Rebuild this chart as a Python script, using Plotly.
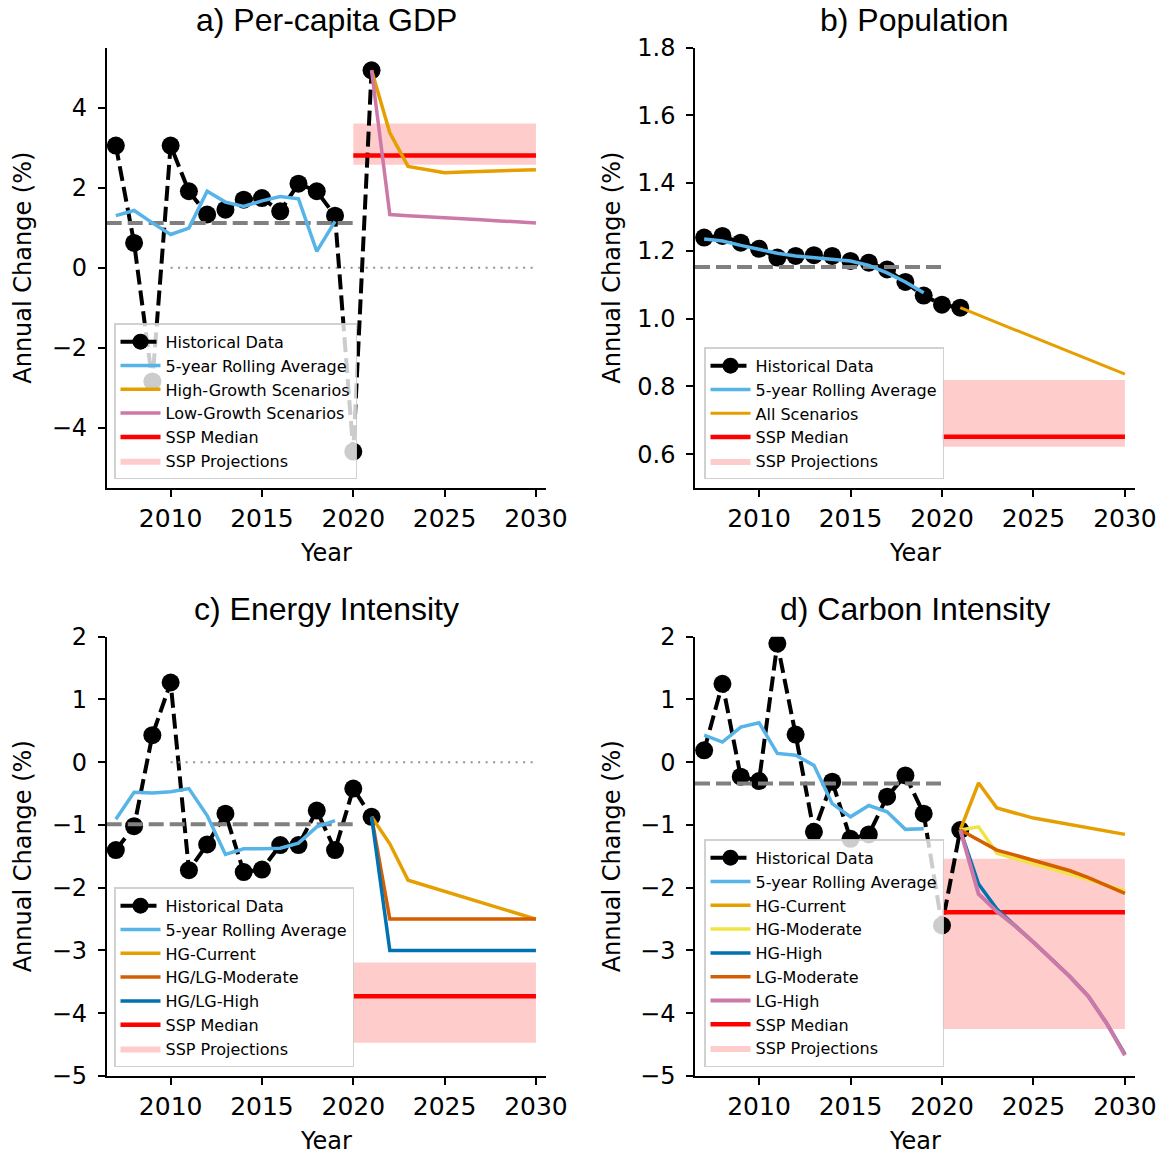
import plotly.graph_objects as go

# ---------------- data ----------------
years_hist = list(range(2007, 2022))
years_roll = list(range(2007, 2020))
years_proj = list(range(2021, 2031))
mean_span = [2006.5, 2020]
zero_span = [2010, 2030]
ssp_span = [2020, 2030]

# a) Per-capita GDP
gdp_hist = [3.05, 0.62, -2.84, 3.05, 1.91, 1.33, 1.45, 1.70, 1.74, 1.41, 2.10, 1.91, 1.30, -4.59, 4.93]
gdp_roll = [1.30, 1.43, 1.12, 0.83, 0.99, 1.91, 1.64, 1.53, 1.67, 1.78, 1.72, 0.41, 1.16]
gdp_mean = 1.12
gdp_high = [4.93, 3.37, 2.53, 2.45, 2.37, 2.39, 2.40, 2.42, 2.43, 2.45]
gdp_low = [4.93, 1.33, 1.30, 1.28, 1.25, 1.22, 1.20, 1.17, 1.15, 1.12]
gdp_ssp_median = 2.80
gdp_ssp_range = [2.575, 3.60]

# b) Population
pop_hist = [1.239, 1.244, 1.224, 1.206, 1.180, 1.185, 1.187, 1.185, 1.170, 1.165, 1.145, 1.108, 1.068, 1.041, 1.032]
pop_roll = [1.235, 1.229, 1.216, 1.204, 1.193, 1.185, 1.180, 1.177, 1.170, 1.157, 1.135, 1.108, 1.076]
pop_mean = 1.152
pop_all = [1.032, 1.010, 0.988, 0.966, 0.944, 0.923, 0.902, 0.880, 0.858, 0.836]
pop_ssp_median = 0.651
pop_ssp_range = [0.622, 0.819]

# c) Energy Intensity
ei_hist = [-1.40, -1.02, 0.43, 1.27, -1.72, -1.31, -0.82, -1.75, -1.71, -1.32, -1.32, -0.77, -1.40, -0.42, -0.87]
ei_roll = [-0.91, -0.48, -0.49, -0.47, -0.42, -0.85, -1.47, -1.38, -1.38, -1.37, -1.29, -1.03, -0.93]
ei_mean = -0.99
ei_hg_current = [-0.87, -1.30, -1.88, -1.97, -2.06, -2.15, -2.23, -2.32, -2.41, -2.50]
ei_moderate = [-0.87, -2.50, -2.50, -2.50, -2.50, -2.50, -2.50, -2.50, -2.50, -2.50]
ei_high = [-0.87, -3.00, -3.00, -3.00, -3.00, -3.00, -3.00, -3.00, -3.00, -3.00]
ei_ssp_median = -3.73
ei_ssp_range = [-4.47, -3.19]

# d) Carbon Intensity
ci_hist = [0.19, 1.25, -0.23, -0.30, 1.89, 0.44, -1.11, -0.31, -1.22, -1.15, -0.55, -0.21, -0.82, -2.60, -1.08]
ci_roll = [0.43, 0.32, 0.56, 0.63, 0.14, 0.11, -0.05, -0.66, -0.87, -0.69, -0.79, -1.07, -1.06]
ci_mean = -0.34
ci_hg_current = [-1.08, -0.33, -0.73, -0.81, -0.89, -0.94, -0.99, -1.04, -1.09, -1.15]
ci_hg_moderate = [-1.08, -1.03, -1.45, -1.54, -1.62, -1.70, -1.78, -1.87, -1.96, -2.05]
ci_hg_high = [-1.08, -1.94, -2.34, -2.60, -2.87, -3.14, -3.42, -3.73, -4.16, -4.65]
ci_lg_moderate = [-1.08, -1.24, -1.40, -1.48, -1.56, -1.64, -1.73, -1.84, -1.96, -2.09]
ci_lg_high = [-1.08, -2.10, -2.38, -2.61, -2.87, -3.14, -3.42, -3.73, -4.16, -4.67]
ci_ssp_median = -2.39
ci_ssp_range = [-4.25, -1.54]

titles = ["a) Per-capita GDP", "b) Population", "c) Energy Intensity", "d) Carbon Intensity"]

# ---------------- styling ----------------
W, H = 1168, 1156
FONT = "DejaVu Sans"
C_ROLL = "#56B4E9"
C_ORANGE = "#E69F00"
C_PINK = "#CC79A7"
C_VERM = "#D55E00"
C_BLUE = "#0072B2"
C_YELLOW = "#F0E442"
C_RED = "#FF0000"
C_BAND = "rgba(255,0,0,0.2)"

xdom = [[106.7 / W, 546 / W], [695 / W, 1135 / W]]
ydom = [[1 - 488 / H, 1 - 47.5 / H], [1 - 1076 / H, 1 - 636.7 / H]]

fig = go.Figure()

panels = [
    dict(ax="", leg="legend", col=0, row=0, hist=gdp_hist, roll=gdp_roll, mean=gdp_mean,
         zero=True, med=gdp_ssp_median, rng=gdp_ssp_range,
         scen=[("High-Growth Scenarios", gdp_high, C_ORANGE, 3.5),
               ("Low-Growth Scenarios", gdp_low, C_PINK, 3.5)],
         yrange=[-5.5, 5.5], ytick=dict(tickvals=[-4, -2, 0, 2, 4])),
    dict(ax="2", leg="legend2", col=1, row=0, hist=pop_hist, roll=pop_roll, mean=pop_mean,
         zero=False, med=pop_ssp_median, rng=pop_ssp_range,
         scen=[("All Scenarios", pop_all, C_ORANGE, 3)],
         yrange=[0.5, 1.8], ytick=dict(tickvals=[0.6, 0.8, 1.0, 1.2, 1.4, 1.6, 1.8], tickformat=".1f")),
    dict(ax="3", leg="legend3", col=0, row=1, hist=ei_hist, roll=ei_roll, mean=ei_mean,
         zero=True, med=ei_ssp_median, rng=ei_ssp_range,
         scen=[("HG-Current", ei_hg_current, C_ORANGE, 3.5),
               ("HG/LG-Moderate", ei_moderate, C_VERM, 3.5),
               ("HG/LG-High", ei_high, C_BLUE, 3.5)],
         yrange=[-5, 2], ytick=dict(tickvals=[-5, -4, -3, -2, -1, 0, 1, 2])),
    dict(ax="4", leg="legend4", col=1, row=1, hist=ci_hist, roll=ci_roll, mean=ci_mean,
         zero=False, med=ci_ssp_median, rng=ci_ssp_range,
         scen=[("HG-Current", ci_hg_current, C_ORANGE, 3.5),
               ("HG-Moderate", ci_hg_moderate, C_YELLOW, 3.5),
               ("HG-High", ci_hg_high, C_BLUE, 3.5),
               ("LG-Moderate", ci_lg_moderate, C_VERM, 3.5),
               ("LG-High", ci_lg_high, C_PINK, 4)],
         yrange=[-5, 2], ytick=dict(tickvals=[-5, -4, -3, -2, -1, 0, 1, 2])),
]

annotations = []
for i, p in enumerate(panels):
    xa, ya = "x" + p["ax"], "y" + p["ax"]
    leg = p["leg"]
    # SSP band
    lo, hi = p["rng"]
    fig.add_trace(go.Scatter(
        x=[ssp_span[0], ssp_span[1], ssp_span[1], ssp_span[0], ssp_span[0]],
        y=[lo, lo, hi, hi, lo], fill="toself", fillcolor=C_BAND, mode="lines",
        line=dict(width=0, color=C_BAND), name="SSP Projections",
        xaxis=xa, yaxis=ya, legend=leg, legendrank=60, hoverinfo="skip"))
    # historical
    fig.add_trace(go.Scatter(
        x=years_hist, y=p["hist"], mode="lines+markers", name="Historical Data",
        line=dict(color="black", width=4, dash="15px,6px"),
        marker=dict(color="black", size=18),
        xaxis=xa, yaxis=ya, legend=leg, legendrank=10))
    # mean dashed
    fig.add_trace(go.Scatter(
        x=mean_span, y=[p["mean"], p["mean"]], mode="lines", showlegend=False,
        line=dict(color="#808080", width=4, dash="15px,6px"),
        xaxis=xa, yaxis=ya, legend=leg))
    if p["zero"]:
        fig.add_trace(go.Scatter(
            x=zero_span, y=[0, 0], mode="lines", showlegend=False,
            line=dict(color="rgba(128,128,128,0.85)", width=2, dash="2px,5.5px"),
            xaxis=xa, yaxis=ya, legend=leg))
    # rolling
    fig.add_trace(go.Scatter(
        x=years_roll, y=p["roll"], mode="lines", name="5-year Rolling Average",
        line=dict(color=C_ROLL, width=3.5),
        xaxis=xa, yaxis=ya, legend=leg, legendrank=11))
    # median
    fig.add_trace(go.Scatter(
        x=ssp_span, y=[p["med"], p["med"]], mode="lines", name="SSP Median",
        line=dict(color=C_RED, width=4.5),
        xaxis=xa, yaxis=ya, legend=leg, legendrank=50))
    # scenarios
    for k, (nm, vals, col, lw) in enumerate(p["scen"]):
        fig.add_trace(go.Scatter(
            x=years_proj, y=vals, mode="lines", name=nm,
            line=dict(color=col, width=lw),
            xaxis=xa, yaxis=ya, legend=leg, legendrank=20 + k))

    xd = xdom[p["col"]]
    yd = ydom[p["row"]]
    axis_common = dict(showline=True, linecolor="black", linewidth=1.5, mirror=False,
                       ticks="outside", ticklen=7, tickwidth=1.5, tickcolor="black",
                       showgrid=False, zeroline=False, automargin=False)
    fig.update_layout(**{
        "xaxis" + p["ax"]: dict(domain=xd, range=[2006.5, 2030.55], tickvals=[2010, 2015, 2020, 2025, 2030],
                                tickfont=dict(family=FONT, size=25, color="black"),
                                anchor=ya, **axis_common),
        "yaxis" + p["ax"]: dict(domain=yd, range=p["yrange"], anchor=xa,
                                tickfont=dict(family=FONT, size=24, color="black"),
                                ticklabelstandoff=6,
                                **p["ytick"], **axis_common),
    })
    # legends
    lx = (114 if p["col"] == 0 else 704) / W
    ly = 1 - (479.3 if p["row"] == 0 else 1067.3) / H
    fig.update_layout(**{leg: dict(
        x=lx, y=ly, xanchor="left", yanchor="bottom", xref="paper", yref="paper",
        bgcolor="rgba(255,255,255,0.8)", bordercolor="rgba(204,204,204,0.9)", borderwidth=1.5,
        itemwidth=40,
        font=dict(family=FONT, size=16, color="black"), traceorder="normal")})

    cx = (xd[0] + xd[1]) / 2
    cy = (yd[0] + yd[1]) / 2
    ty = 1 - (20 if p["row"] == 0 else 609) / H
    annotations.append(dict(text=titles[i], x=cx, y=ty, xref="paper", yref="paper",
                            showarrow=False, xanchor="center", yanchor="middle",
                            font=dict(family="Liberation Sans", size=32, color="black")))
    yy = 1 - (553 if p["row"] == 0 else 1141) / H
    annotations.append(dict(text="Year", x=cx, y=yy, xref="paper", yref="paper",
                            showarrow=False, xanchor="center", yanchor="middle",
                            font=dict(family=FONT, size=24, color="black")))
    lxp = (23 if p["col"] == 0 else 612) / W
    annotations.append(dict(text="Annual Change (%)", x=lxp, y=cy, xref="paper", yref="paper",
                            showarrow=False, xanchor="center", yanchor="middle", textangle=-90,
                            font=dict(family=FONT, size=24, color="black")))

fig.update_layout(width=W, height=H, margin=dict(l=0, r=0, t=0, b=0, autoexpand=False),
                  plot_bgcolor="white", paper_bgcolor="white",
                  annotations=annotations, showlegend=True)

fig.write_html("out.html")
